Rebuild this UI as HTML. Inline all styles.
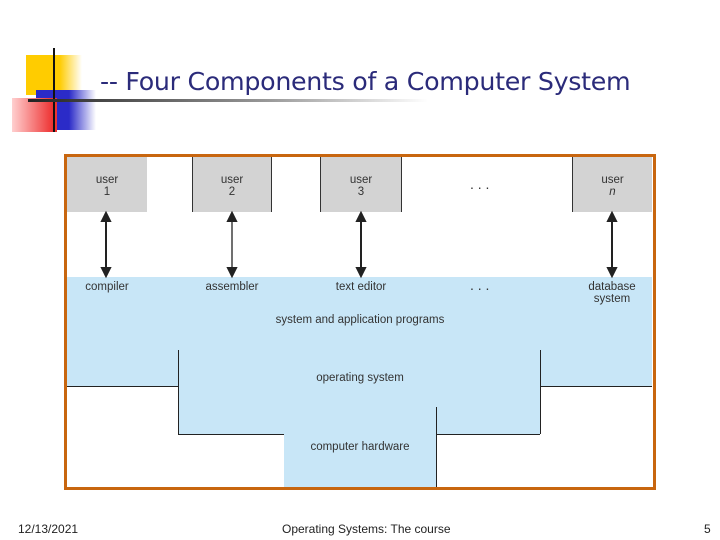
<!DOCTYPE html>
<html><head><style>
body{margin:0;width:720px;height:540px;background:#fff;position:relative;overflow:hidden;font-family:"Liberation Sans",sans-serif}
.a{position:absolute}
.u{position:absolute;background:#d3d3d3;top:157px;height:55px;text-align:center;font-size:11.5px;color:#333;line-height:12px;padding-top:17px;box-sizing:border-box}
.t{position:absolute;font-size:11.5px;color:#333;text-align:center}
.ln{position:absolute;background:#222}
</style></head><body>
<div class="a" style="left:26px;top:55px;width:56px;height:40px;background:linear-gradient(to right,#ffcc00 60%,#fff)"></div>
<div class="a" style="left:36px;top:90px;width:60px;height:40px;background:linear-gradient(to right,#2b2bc8 55%,#fff)"></div>
<div class="a" style="left:12px;top:98px;width:45px;height:34px;background:linear-gradient(to right,#ffd0d0,#ee3333 90%)"></div>
<div class="a" style="left:53px;top:48px;width:2px;height:84px;background:#111"></div>
<div class="a" style="left:28px;top:99px;width:400px;height:3px;background:linear-gradient(to right,#222,#999 60%,#fff)"></div>
<div class="a" style="left:100px;top:67px;font-size:25.3px;color:#2b2b7a;font-family:'DejaVu Sans',sans-serif;letter-spacing:-0.3px">-- Four Components of a Computer System</div>

<div class="a" style="left:64px;top:154px;width:586px;height:330px;border:3px solid #c8660f;background:#fff"></div>
<div class="u" style="left:67px;width:80px">user<br>1</div>
<div class="u" style="left:192px;width:80px;border-left:1px solid #333;border-right:1px solid #333">user<br>2</div>
<div class="u" style="left:320px;width:82px;border-left:1px solid #333;border-right:1px solid #333">user<br>3</div>
<div class="u" style="left:572px;width:80px;border-left:1px solid #333">user<br><i>n</i></div>
<div class="t" style="left:470px;top:176px;font-size:14px">. . .</div>

<div class="a" style="left:67px;top:277px;width:585px;height:109px;background:#c8e6f7"></div>
<div class="a" style="left:178px;top:350px;width:362px;height:84px;background:#c8e6f7"></div>
<div class="a" style="left:284px;top:408px;width:152px;height:79px;background:#c8e6f7"></div>

<div class="ln" style="left:67px;top:386px;width:111px;height:1px"></div>
<div class="ln" style="left:178px;top:350px;width:1px;height:84px"></div>
<div class="ln" style="left:178px;top:434px;width:106px;height:1px"></div>
<div class="ln" style="left:540px;top:386px;width:112px;height:1px"></div>
<div class="ln" style="left:540px;top:350px;width:1px;height:84px"></div>
<div class="ln" style="left:436px;top:434px;width:104px;height:1px"></div>
<div class="ln" style="left:436px;top:407px;width:1px;height:80px"></div>

<svg class="a" style="left:0;top:0" width="720" height="540">
<g stroke="#222" stroke-width="2" fill="#222">
<line x1="106" y1="218" x2="106" y2="271"/><polygon points="106,213 102,221 110,221"/><polygon points="106,276 102,268 110,268"/>
<line x1="232" y1="218" x2="232" y2="271" stroke-width="1.3"/><polygon points="232,213 228,221 236,221"/><polygon points="232,276 228,268 236,268"/>
<line x1="361" y1="218" x2="361" y2="271"/><polygon points="361,213 357,221 365,221"/><polygon points="361,276 357,268 365,268"/>
<line x1="612" y1="218" x2="612" y2="271"/><polygon points="612,213 608,221 616,221"/><polygon points="612,276 608,268 616,268"/>
</g></svg>

<div class="t" style="left:67px;width:80px;top:281px">compiler</div>
<div class="t" style="left:187px;width:90px;top:281px">assembler</div>
<div class="t" style="left:311px;width:100px;top:281px">text editor</div>
<div class="t" style="left:470px;top:277px;font-size:14px">. . .</div>
<div class="t" style="left:572px;width:80px;top:281px;line-height:12px">database<br>system</div>
<div class="t" style="left:230px;width:260px;top:314px">system and application programs</div>
<div class="t" style="left:270px;width:180px;top:372px">operating system</div>
<div class="t" style="left:284px;width:152px;top:441px">computer hardware</div>

<div class="a" style="left:18px;top:522px;font-size:12px;color:#222">12/13/2021</div>
<div class="a" style="left:282px;top:522px;font-size:12px;color:#222">Operating Systems: The course</div>
<div class="a" style="left:704px;top:522px;font-size:12px;color:#222">5</div>
</body></html>
